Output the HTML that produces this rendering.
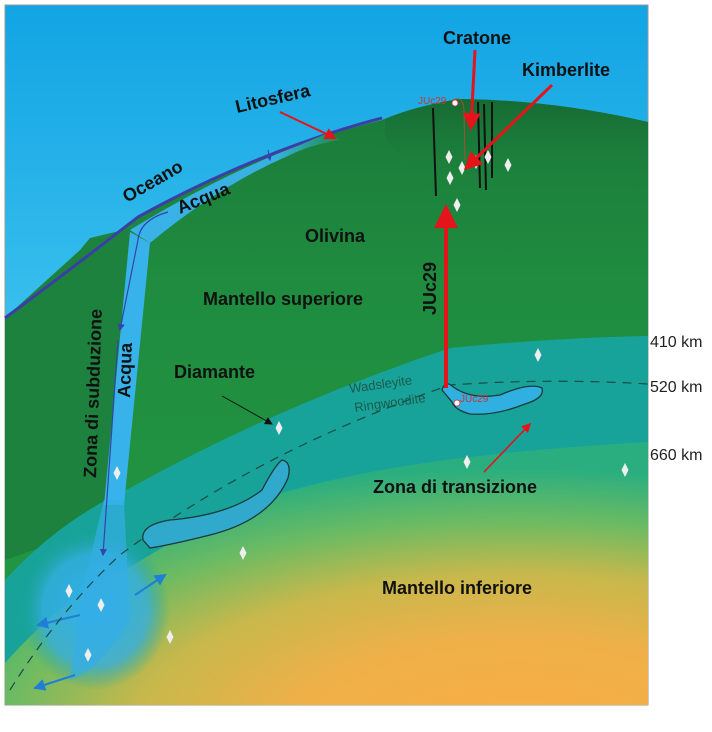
<!DOCTYPE html>
<html><head><meta charset="utf-8"><style>
html,body{margin:0;padding:0;background:#fff;}
svg{display:block;}
text{font-family:"Liberation Sans",sans-serif;}
.b{font-weight:bold;fill:#111;font-size:18px;}
</style></head><body>
<svg width="712" height="732" viewBox="0 0 712 732" xmlns="http://www.w3.org/2000/svg">
<defs>
<linearGradient id="sky" x1="0" y1="0" x2="0" y2="1">
<stop offset="0" stop-color="#12a4e4"/><stop offset="0.5" stop-color="#3dc2ee"/><stop offset="1" stop-color="#8ddcf2"/></linearGradient>
<linearGradient id="grn" x1="0" y1="0" x2="0" y2="1">
<stop offset="0" stop-color="#1a7a3a"/><stop offset="0.3" stop-color="#1f8c3f"/><stop offset="1" stop-color="#229a44"/></linearGradient>
<radialGradient id="low" cx="0.8" cy="1.1" r="1.0">
<stop offset="0" stop-color="#f8ad45"/><stop offset="0.35" stop-color="#f0b048"/><stop offset="0.6" stop-color="#c7b84c"/><stop offset="0.8" stop-color="#6cbb62"/><stop offset="1" stop-color="#2aae80"/></radialGradient>
<linearGradient id="lit" x1="0" y1="0" x2="1" y2="0">
<stop offset="0" stop-color="#39b2ea"/><stop offset="0.7" stop-color="#38b0e0"/><stop offset="1" stop-color="#1e8a4a"/></linearGradient>
<linearGradient id="crat" x1="0" y1="0" x2="0" y2="1">
<stop offset="0" stop-color="#166a33"/><stop offset="1" stop-color="#1f8c3f" stop-opacity="0"/></linearGradient>
<radialGradient id="blob" cx="0.5" cy="0.5" r="0.5">
<stop offset="0" stop-color="#2fb0ee"/><stop offset="0.7" stop-color="#34aee0" stop-opacity="0.8"/><stop offset="1" stop-color="#1ba39b" stop-opacity="0"/></radialGradient>
<marker id="ar" markerWidth="6" markerHeight="6" refX="5" refY="3" orient="auto"><path d="M0,0 L6,3 L0,6z" fill="#e4141a"/></marker>
<marker id="ak" markerWidth="8" markerHeight="8" refX="7" refY="4" orient="auto"><path d="M0,0 L8,4 L0,8z" fill="#111"/></marker>
<marker id="ab" markerWidth="6" markerHeight="6" refX="5" refY="3" orient="auto"><path d="M0,0 L6,3 L0,6z" fill="#3344aa"/></marker>
<marker id="ab2" markerWidth="6" markerHeight="6" refX="5" refY="3" orient="auto"><path d="M0,0 L6,3 L0,6z" fill="#1f7fd6"/></marker>
<g id="d"><path d="M0,-7 L3.5,0 L0,7 L-3.5,0z" fill="#eee"/></g>
</defs>
<rect x="5" y="5" width="643" height="700" fill="url(#sky)" stroke="#999" stroke-width="1"/>
<!-- green upper mantle -->
<path d="M5,318 Q70,270 138,217 Q260,150 382,120 Q415,106 460,99 Q553,100 648,122 L648,705 L5,705z" fill="url(#grn)"/>
<!-- overriding block -->
<path d="M5,318 L80,250 L90,238 L132,228 L140,260 L120,520 L5,560z" fill="#1c823d"/>
<!-- cratone dark -->
<path d="M385,119 Q415,106 460,99 Q553,100 648,122 L648,200 Q540,200 470,205 Q430,205 410,175 Q400,150 385,140z" fill="url(#crat)"/>
<!-- surface line -->
<path d="M5,318 Q70,270 138,217 Q260,150 382,118" fill="none" stroke="#3a3fa6" stroke-width="3"/>
<!-- lithosphere blue band -->
<path d="M130,230 Q220,175 300,145 L330,132 L340,140 Q310,145 290,155 Q220,185 150,243z" fill="url(#lit)"/>
<!-- transition zone -->
<path d="M5,580 Q60,520 130,488 Q280,405 450,348 Q550,338 648,336 L648,705 L5,705z" fill="#17a39a"/>
<!-- lower mantle -->
<path d="M5,663 Q70,590 130,567 Q230,505 300,488 Q420,455 648,442 L648,705 L5,705z" fill="url(#low)"/>
<!-- slab vertical -->
<path d="M130,232 L150,243 L124,505 L104,505z" fill="#38b2ea"/>
<ellipse cx="95" cy="610" rx="75" ry="80" fill="url(#blob)"/>
<path d="M104,500 L124,500 L130,620 Q100,670 70,680 L80,600z" fill="#34aee6" opacity="0.7"/>
<!-- water arrows -->
<path d="M168,212 Q140,220 138,240 L120,330" fill="none" stroke="#3344aa" stroke-width="1.2" marker-end="url(#ab)"/>
<path d="M118,340 L103,555" fill="none" stroke="#3344aa" stroke-width="1.2" marker-end="url(#ab)"/>
<path d="M268,150 L270,160" stroke="#3344aa" stroke-width="1" marker-end="url(#ab)"/>
<path d="M135,595 L165,575" stroke="#1f7fd6" stroke-width="2" marker-end="url(#ab2)"/>
<path d="M80,615 L38,625" stroke="#1f7fd6" stroke-width="2" marker-end="url(#ab2)"/>
<path d="M75,675 L35,688" stroke="#1f7fd6" stroke-width="2" marker-end="url(#ab2)"/>
<!-- dashed 520 line -->
<path d="M10,690 Q60,610 120,555 Q260,450 450,385 Q550,378 648,384" fill="none" stroke="#1c4a44" stroke-width="1.2" stroke-dasharray="9,7"/>
<!-- bodies -->
<path d="M143,540 Q140,525 170,520 Q230,515 262,490 Q275,465 282,460 Q292,462 288,478 Q270,520 210,535 Q170,545 150,548z" fill="#30a9cc" stroke="#1a3a3a" stroke-width="1.3"/>
<path d="M442,390 Q445,380 452,386 Q470,400 500,395 Q530,382 542,388 Q545,398 525,404 Q495,416 470,414 Q455,410 452,402z" fill="#2fb0e0" stroke="#1a3a3a" stroke-width="1.3"/>
<!-- kimberlite pipes -->
<g stroke="#111" stroke-width="2" fill="none"><path d="M433,108 L436,196"/><path d="M478,102 L480,188"/><path d="M484,104 L486,190"/><path d="M492,102 L492,178"/></g>
<path d="M453,100 Q464,95 464,112 L465,160" stroke="#a0522d" stroke-width="1" fill="none"/>
<!-- diamonds -->
<use href="#d" x="450" y="178"/>
<use href="#d" x="457" y="205"/><use href="#d" x="508" y="165"/><use href="#d" x="449" y="157"/><use href="#d" x="488" y="157"/>
<use href="#d" x="476" y="162"/><use href="#d" x="462" y="168"/><use href="#d" x="279" y="428"/><use href="#d" x="538" y="355"/>
<use href="#d" x="625" y="470"/><use href="#d" x="467" y="462"/><use href="#d" x="243" y="553"/><use href="#d" x="101" y="605"/>
<use href="#d" x="69" y="591"/><use href="#d" x="117" y="473"/><use href="#d" x="170" y="637"/><use href="#d" x="88" y="655"/>
<circle cx="455" cy="103" r="3" fill="#fff" stroke="#c33" stroke-width="0.8"/>
<circle cx="457" cy="403" r="3" fill="#fff" stroke="#c33" stroke-width="0.8"/>
<!-- red arrows -->
<path d="M446,388 L446,208" stroke="#e4141a" stroke-width="4" marker-end="url(#ar)"/>
<path d="M475,50 L471,128" stroke="#e4141a" stroke-width="3" marker-end="url(#ar)"/>
<path d="M552,85 L466,168" stroke="#e4141a" stroke-width="3" marker-end="url(#ar)"/>
<path d="M280,112 L335,138" stroke="#e4141a" stroke-width="2" marker-end="url(#ar)"/>
<path d="M484,472 L530,424" stroke="#e4141a" stroke-width="1.6" marker-end="url(#ar)"/>
<path d="M222,396 L272,424" stroke="#111" stroke-width="1" marker-end="url(#ak)"/>
<!-- labels -->
<text class="b" x="443" y="44" font-size="17">Cratone</text>
<text class="b" x="522" y="76" font-size="17">Kimberlite</text>
<text class="b" x="237" y="113" font-size="17" transform="rotate(-13 237 113)">Litosfera</text>
<text class="b" x="127" y="203" font-size="17" transform="rotate(-30 127 203)">Oceano</text>
<text class="b" x="180" y="214" font-size="17" transform="rotate(-22 180 214)">Acqua</text>
<text class="b" x="305" y="242" font-size="17">Olivina</text>
<text class="b" x="203" y="305" font-size="17">Mantello superiore</text>
<text class="b" x="174" y="378" font-size="17">Diamante</text>
<text class="b" x="373" y="493" font-size="17">Zona di transizione</text>
<text class="b" x="382" y="594" font-size="17">Mantello inferiore</text>
<text class="b" x="436" y="315" font-size="18" transform="rotate(-90 436 315)">JUc29</text>
<text class="b" x="96" y="478" font-size="17" transform="rotate(-88 96 478)">Zona di subduzione</text>
<text class="b" x="130" y="398" font-size="17" transform="rotate(-88 130 398)">Acqua</text>
<text x="350" y="393" font-size="13" fill="#1c5a4a" transform="rotate(-8 350 393)">Wadsleyite</text>
<text x="355" y="412" font-size="13" fill="#1c5a4a" transform="rotate(-8 355 412)">Ringwoodite</text>
<text x="418" y="104" font-size="10" fill="#c33">JUc29</text>
<text x="460" y="402" font-size="10" fill="#c33">JUc29</text>
<text x="650" y="347" font-size="16" fill="#222">410 km</text>
<text x="650" y="392" font-size="16" fill="#222">520 km</text>
<text x="650" y="460" font-size="16" fill="#222">660 km</text>
</svg>
</body></html>
